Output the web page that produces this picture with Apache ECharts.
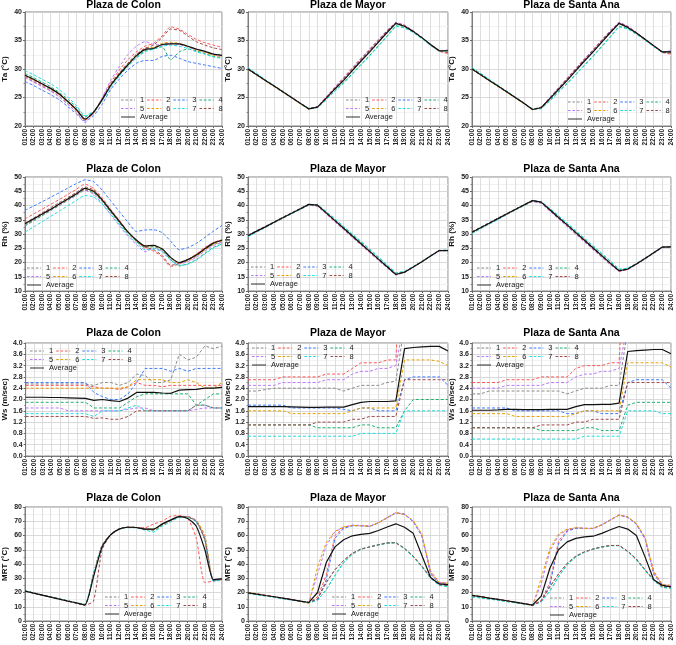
<!DOCTYPE html>
<html><head><meta charset="utf-8">
<script src="https://cdn.jsdelivr.net/npm/echarts@6/dist/echarts.min.js"></script>
<style>html,body{margin:0;padding:0;background:#fff}#c{width:676px;height:645px}</style>
</head><body><div id="c"></div><script>
const hours = ['01:00','02:00','03:00','04:00','05:00','06:00','07:00','08:00','09:00','10:00','11:00','12:00','13:00','14:00','15:00','16:00','17:00','18:00','19:00','20:00','21:00','22:00','23:00','24:00'];
const seriesNames = ['1','2','3','4','5','6','7','8','Average'];
const seriesColors = ['#8a8a8a','#ff5555','#3a78ff','#1fb070','#bb77ff','#e8a000','#20dde0','#a04848','#111111'];

// Ta (°C) — rows: series 1..8, Average
const taColon = [
 [28.7,28.0,27.2,26.4,25.5,24.2,22.8,21.1,22.3,24.6,27.2,29.2,30.9,32.4,33.6,33.7,34.2,34.5,34.4,33.9,33.4,33.1,32.6,32.4],
 [28.6,27.8,27.0,26.2,25.2,23.9,22.5,21.0,22.4,24.8,27.6,29.8,31.6,33.0,34.0,34.5,35.8,37.4,37.0,36.1,35.2,34.6,34.2,33.8],
 [27.8,27.1,26.3,25.5,24.6,23.4,22.1,20.9,21.8,23.8,26.4,28.2,29.8,31.0,31.5,31.5,32.2,32.4,31.9,31.3,31.0,30.7,30.4,30.1],
 [29.2,28.5,27.7,26.9,25.9,24.7,23.3,21.6,22.5,24.5,27.0,28.9,30.6,32.0,33.2,33.5,33.9,31.6,33.0,33.5,33.2,32.7,32.2,32.0],
 [28.5,27.7,26.9,26.1,25.1,23.8,22.4,20.6,22.2,24.9,28.0,30.4,32.5,34.0,34.8,34.3,34.2,34.5,34.3,33.9,33.4,33.0,32.5,32.3],
 [28.8,28.1,27.3,26.5,25.5,24.2,22.8,21.1,22.3,24.6,27.2,29.1,30.9,32.4,33.6,33.8,34.5,34.7,34.5,34.0,33.4,32.9,32.4,32.2],
 [29.7,29.0,28.2,27.4,26.4,25.1,23.6,21.8,22.6,24.4,26.8,28.7,30.4,31.9,33.0,33.5,34.0,34.2,34.0,33.6,33.0,32.6,32.1,31.9],
 [28.9,28.2,27.4,26.6,25.6,24.3,22.9,21.2,22.5,24.7,27.3,29.3,31.0,32.6,33.6,34.2,35.5,37.0,36.8,35.8,34.8,34.2,33.7,33.4],
 [28.9,28.2,27.4,26.6,25.6,24.3,22.9,21.2,22.4,24.6,27.1,29.0,30.7,32.3,33.4,33.6,34.3,34.4,34.4,34.0,33.5,33.1,32.6,32.4]
];
const taMayor = [
 [30.1,29.1,28.1,27.1,26.1,25.1,24.0,23.0,23.4,25.0,26.6,28.2,29.9,31.6,33.2,34.9,36.6,38.1,37.6,36.6,35.5,34.3,33.2,33.2],
 [30.0,29.0,28.0,27.0,26.0,25.0,24.0,23.0,23.4,25.1,26.8,28.5,30.2,31.9,33.5,35.1,36.7,38.2,37.7,36.7,35.5,34.2,33.1,32.7],
 [30.0,29.0,28.0,27.0,26.0,25.0,24.0,23.0,23.3,24.9,26.5,28.1,29.8,31.5,33.1,34.8,36.5,38.0,37.5,36.6,35.5,34.3,33.2,33.3],
 [30.1,29.1,28.0,27.0,26.0,25.0,24.0,23.1,23.3,24.7,26.2,27.6,29.2,30.8,32.4,34.1,35.8,37.6,37.3,36.5,35.4,34.2,33.1,33.2],
 [30.0,29.0,28.0,27.0,26.0,25.0,24.0,23.0,23.4,25.1,26.8,28.5,30.2,31.9,33.5,35.2,36.8,38.2,37.7,36.7,35.5,34.3,33.2,33.3],
 [29.9,28.9,27.9,26.9,25.9,24.9,23.9,22.9,23.3,24.9,26.5,28.1,29.8,31.5,33.1,34.8,36.5,38.0,37.5,36.6,35.5,34.3,33.2,33.2],
 [30.2,29.2,28.1,27.1,26.1,25.0,24.0,23.1,23.2,24.6,26.1,27.5,29.1,30.7,32.3,34.0,35.7,37.5,37.2,36.4,35.3,34.1,33.1,33.2],
 [30.0,29.0,28.0,27.0,26.0,25.0,24.0,23.0,23.4,25.0,26.7,28.3,30.0,31.7,33.3,35.0,36.7,38.1,37.6,36.6,35.5,34.2,33.1,32.9],
 [30.0,29.0,28.0,27.0,26.0,25.0,24.0,23.0,23.3,24.9,26.5,28.0,29.7,31.4,33.0,34.7,36.4,38.0,37.5,36.6,35.5,34.3,33.2,33.2]
];
const taSantaAna = [
 [30.1,29.1,28.1,27.1,26.1,25.1,24.0,22.9,23.3,24.9,26.5,28.2,29.9,31.6,33.2,34.9,36.6,38.1,37.4,36.4,35.2,34.1,33.0,33.0],
 [30.0,29.0,28.0,27.0,26.0,25.0,24.0,22.9,23.3,25.0,26.7,28.4,30.1,31.8,33.4,35.1,36.7,38.2,37.5,36.4,35.2,34.0,32.9,32.6],
 [30.0,29.0,28.0,27.0,26.0,25.0,24.0,22.9,23.2,24.8,26.4,28.1,29.8,31.5,33.1,34.8,36.5,38.0,37.3,36.3,35.2,34.1,33.0,33.1],
 [30.2,29.2,28.1,27.1,26.1,25.0,24.0,23.0,23.1,24.5,26.0,27.5,29.1,30.7,32.3,34.0,35.7,37.5,37.1,36.2,35.1,34.0,33.0,33.1],
 [30.0,29.0,28.0,27.0,26.0,25.0,24.0,22.9,23.3,25.0,26.7,28.4,30.1,31.8,33.4,35.1,36.8,38.2,37.5,36.4,35.2,34.1,33.0,33.2],
 [29.9,28.9,27.9,26.9,25.9,24.9,23.9,22.8,23.2,24.8,26.4,28.0,29.7,31.4,33.0,34.7,36.4,38.0,37.3,36.3,35.2,34.1,33.0,33.0],
 [30.2,29.2,28.2,27.1,26.1,25.1,24.0,23.0,23.0,24.4,25.9,27.4,29.0,30.6,32.2,33.9,35.6,37.4,37.0,36.1,35.0,33.9,32.9,33.0],
 [30.0,29.0,28.0,27.0,26.0,25.0,24.0,22.9,23.3,24.9,26.6,28.3,30.0,31.7,33.3,35.0,36.6,38.1,37.4,36.4,35.2,34.0,32.9,32.8],
 [30.0,29.0,28.0,27.0,26.0,25.0,24.0,22.9,23.2,24.8,26.4,28.0,29.7,31.4,33.0,34.7,36.4,38.0,37.3,36.3,35.2,34.1,33.0,33.0]
];

// Rh (%)
const rhColon = [
 [33.0,34.8,36.6,38.4,40.2,42.0,43.8,45.6,44.6,41.5,37.7,34.0,30.4,27.5,25.5,25.7,24.5,21.5,19.8,20.6,22.2,24.4,26.3,27.2],
 [35.3,37.0,38.7,40.4,42.1,43.9,45.7,47.5,46.0,42.7,38.7,34.8,30.8,27.6,25.0,24.0,22.0,18.6,19.5,21.0,23.0,25.3,27.0,27.8],
 [38.3,39.8,41.3,42.9,44.5,46.1,47.7,49.0,48.4,45.4,41.7,37.9,34.2,30.9,31.4,31.5,30.5,27.5,24.5,25.2,26.7,28.8,31.0,33.0],
 [32.8,34.6,36.4,38.2,40.0,41.8,43.6,45.4,44.5,41.5,37.8,34.0,30.3,27.4,25.3,25.5,24.3,21.0,18.8,19.5,21.0,23.2,25.3,26.5],
 [33.2,35.0,36.7,38.4,40.2,42.0,43.7,45.3,44.0,40.7,36.8,33.0,29.3,26.3,23.8,25.0,24.0,21.0,19.5,20.3,21.8,24.0,26.0,27.0],
 [33.4,35.2,36.9,38.6,40.4,42.2,44.0,45.8,44.8,41.8,38.0,34.3,30.6,27.7,25.6,25.8,24.6,21.5,19.8,20.7,22.3,24.5,26.5,27.5],
 [30.7,32.5,34.3,36.2,38.0,39.9,41.8,43.5,43.0,40.5,37.0,33.4,29.8,26.9,24.5,24.8,23.8,20.8,19.0,19.4,20.8,23.0,25.0,26.5],
 [33.8,35.6,37.4,39.2,41.0,42.8,44.6,46.5,45.5,42.3,38.4,34.6,30.8,27.8,25.5,24.5,22.5,19.0,19.7,21.0,22.8,25.0,27.0,28.0],
 [33.6,35.3,37.0,38.7,40.5,42.3,44.1,46.0,45.0,42.0,38.2,34.5,30.8,27.9,25.8,26.0,24.8,21.8,20.0,21.0,22.6,24.8,26.8,27.8]
];
const rhMayor = [
 [29.6,31.2,32.7,34.3,35.9,37.4,39.0,40.5,40.1,37.5,34.8,32.1,29.4,26.7,24.0,21.3,18.6,15.9,16.7,18.5,20.4,22.4,24.3,24.3],
 [29.4,31.0,32.5,34.0,35.6,37.1,38.7,40.2,39.8,37.1,34.3,31.6,28.9,26.2,23.5,20.8,18.2,15.7,16.5,18.4,20.3,22.3,24.2,24.2],
 [29.5,31.1,32.6,34.2,35.8,37.3,38.9,40.4,40.1,37.4,34.7,32.0,29.3,26.6,23.9,21.2,18.5,15.8,16.6,18.4,20.3,22.3,24.2,24.2],
 [29.2,30.8,32.4,34.0,35.6,37.2,38.8,40.3,40.2,37.8,35.2,32.5,29.8,27.2,24.5,21.8,19.0,16.2,16.8,18.5,20.4,22.3,24.2,24.3],
 [29.3,30.9,32.4,34.0,35.5,37.1,38.6,40.1,39.7,37.0,34.2,31.5,28.8,26.1,23.4,20.7,18.1,15.6,16.5,18.3,20.2,22.2,24.1,24.2],
 [29.4,31.0,32.5,34.1,35.7,37.2,38.8,40.3,40.0,37.3,34.6,31.9,29.2,26.5,23.8,21.1,18.4,15.8,16.6,18.4,20.3,22.3,24.2,24.2],
 [29.1,30.7,32.3,33.9,35.5,37.1,38.7,40.2,40.2,37.9,35.3,32.7,30.0,27.4,24.7,22.0,19.2,16.4,16.9,18.6,20.4,22.3,24.2,24.3],
 [29.5,31.1,32.6,34.2,35.8,37.3,38.9,40.4,40.0,37.3,34.6,31.9,29.2,26.5,23.8,21.1,18.4,15.8,16.6,18.4,20.3,22.3,24.2,24.2],
 [29.4,31.0,32.5,34.1,35.7,37.3,38.8,40.4,40.1,37.4,34.7,32.0,29.3,26.6,23.9,21.2,18.5,15.8,16.6,18.4,20.3,22.3,24.2,24.2]
];
const rhSantaAna = [
 [30.8,32.4,34.0,35.6,37.1,38.7,40.3,41.8,41.2,38.6,35.9,33.3,30.6,27.9,25.2,22.5,19.8,17.2,17.8,19.6,21.5,23.5,25.5,25.6],
 [30.6,32.2,33.8,35.3,36.9,38.5,40.0,41.5,40.9,38.1,35.4,32.7,30.0,27.3,24.6,21.9,19.3,16.9,17.6,19.4,21.3,23.3,25.3,25.4],
 [30.7,32.3,33.9,35.5,37.1,38.7,40.2,41.7,41.2,38.5,35.8,33.2,30.5,27.8,25.1,22.4,19.7,17.1,17.7,19.5,21.4,23.4,25.4,25.5],
 [30.3,31.9,33.6,35.2,36.8,38.5,40.1,41.6,41.3,38.9,36.3,33.7,31.0,28.3,25.7,23.0,20.3,17.5,17.9,19.6,21.5,23.4,25.4,25.6],
 [30.5,32.1,33.7,35.2,36.8,38.4,39.9,41.4,40.8,38.0,35.3,32.6,29.9,27.2,24.5,21.8,19.2,16.8,17.5,19.3,21.2,23.2,25.2,25.4],
 [30.6,32.2,33.8,35.4,37.0,38.6,40.1,41.6,41.1,38.4,35.7,33.1,30.4,27.7,25.0,22.3,19.6,17.0,17.7,19.5,21.4,23.4,25.4,25.5],
 [30.2,31.8,33.5,35.1,36.8,38.4,40.0,41.6,41.4,39.0,36.4,33.8,31.2,28.5,25.9,23.2,20.5,17.7,18.0,19.7,21.5,23.4,25.4,25.6],
 [30.7,32.3,33.9,35.5,37.1,38.7,40.2,41.7,41.1,38.4,35.7,33.0,30.3,27.6,24.9,22.2,19.6,17.0,17.7,19.5,21.4,23.4,25.4,25.5],
 [30.6,32.2,33.8,35.4,37.0,38.6,40.2,41.7,41.2,38.5,35.8,33.2,30.5,27.8,25.1,22.4,19.7,17.1,17.7,19.5,21.4,23.4,25.4,25.5]
];

// Ws (m/sec)
const wsColon = [
 [2.55,2.55,2.55,2.55,2.55,2.55,2.55,2.55,2.5,2.6,2.6,2.5,2.6,2.9,2.85,2.6,2.6,2.7,3.6,3.4,3.5,3.9,3.8,3.9],
 [2.5,2.5,2.5,2.5,2.5,2.5,2.5,2.5,2.45,2.4,2.4,2.35,2.45,2.6,2.5,2.5,2.45,2.5,2.5,2.5,2.5,2.5,2.5,2.5],
 [2.6,2.6,2.6,2.6,2.6,2.6,2.6,2.6,2.25,2.1,2.0,2.0,2.2,2.6,3.1,3.1,3.1,3.0,3.1,3.0,3.1,3.1,3.1,3.1],
 [1.9,1.9,1.9,1.9,1.9,1.9,1.9,1.9,1.7,1.7,1.7,1.7,1.9,2.1,2.2,2.2,2.2,2.2,2.2,2.2,1.8,2.0,2.2,2.2],
 [1.7,1.7,1.7,1.7,1.7,1.6,1.6,1.6,1.6,1.6,1.6,1.6,1.65,1.7,1.7,1.6,1.6,1.6,1.6,1.6,1.65,1.7,1.7,1.7],
 [2.4,2.4,2.4,2.4,2.4,2.4,2.4,2.4,2.4,2.4,2.4,2.4,2.45,2.7,2.7,2.7,2.7,2.6,2.6,2.7,2.6,2.4,2.4,2.6],
 [1.5,1.5,1.5,1.5,1.5,1.5,1.5,1.5,1.4,1.6,1.6,1.6,1.7,1.8,1.6,1.6,1.6,1.6,1.6,1.6,1.8,1.8,1.7,1.7],
 [1.4,1.4,1.4,1.4,1.4,1.4,1.4,1.4,1.33,1.35,1.3,1.3,1.4,1.6,1.6,1.6,1.6,1.6,1.6,1.6,1.8,1.8,1.7,1.7],
 [2.08,2.08,2.08,2.07,2.07,2.06,2.05,2.04,1.97,2.0,1.96,1.93,2.05,2.25,2.25,2.25,2.23,2.22,2.33,2.35,2.36,2.4,2.4,2.43]
];
const wsMayor = [
 [2.3,2.3,2.35,2.4,2.4,2.4,2.4,2.4,2.4,2.4,2.4,2.3,2.4,2.5,2.5,2.5,2.6,2.65,4.6,4.6,4.6,4.6,4.6,4.6],
 [2.7,2.7,2.7,2.7,2.8,2.8,2.8,2.8,2.8,2.9,2.9,2.9,3.1,3.3,3.3,3.3,3.4,3.4,9.0,9.0,9.0,9.0,9.0,9.0],
 [1.8,1.8,1.8,1.8,1.8,1.7,1.7,1.7,1.7,1.7,1.7,1.65,1.6,1.7,1.7,1.6,1.6,1.6,2.7,2.8,2.8,2.8,2.8,2.5],
 [1.1,1.1,1.1,1.1,1.1,1.1,1.1,1.1,1.0,1.0,1.0,1.0,1.0,1.1,1.1,1.0,1.0,1.0,1.6,2.0,2.0,2.0,2.0,2.0],
 [2.5,2.5,2.5,2.5,2.6,2.6,2.6,2.6,2.6,2.7,2.7,2.7,2.9,3.0,3.0,3.1,3.1,3.2,4.8,4.8,4.8,4.8,4.8,4.8],
 [1.6,1.6,1.6,1.6,1.6,1.5,1.5,1.5,1.5,1.5,1.5,1.5,1.6,1.7,1.7,1.7,1.7,1.7,3.4,3.4,3.4,3.4,3.35,3.2],
 [0.7,0.7,0.7,0.7,0.7,0.7,0.7,0.7,0.7,0.7,0.7,0.7,0.7,0.8,0.8,0.8,0.8,0.8,1.6,1.6,1.6,1.6,1.6,1.6],
 [1.1,1.1,1.1,1.1,1.1,1.1,1.1,1.1,1.2,1.2,1.2,1.2,1.3,1.3,1.4,1.4,1.4,1.4,2.7,2.7,2.7,2.7,2.7,2.7],
 [1.75,1.75,1.75,1.75,1.75,1.74,1.73,1.72,1.72,1.73,1.73,1.73,1.82,1.9,1.93,1.93,1.93,1.95,3.8,3.84,3.86,3.88,3.88,3.72]
];
const wsSantaAna = [
 [2.2,2.2,2.3,2.3,2.3,2.3,2.3,2.3,2.3,2.3,2.3,2.2,2.3,2.4,2.4,2.4,2.5,2.5,4.5,4.5,4.5,4.5,4.5,4.5],
 [2.6,2.6,2.6,2.6,2.7,2.7,2.7,2.7,2.8,2.8,2.8,2.8,3.1,3.2,3.2,3.2,3.3,3.3,9.0,9.0,9.0,9.0,9.0,9.0],
 [1.7,1.7,1.7,1.7,1.7,1.6,1.6,1.6,1.6,1.6,1.6,1.5,1.5,1.6,1.6,1.5,1.5,1.5,2.6,2.7,2.7,2.7,2.7,2.4],
 [1.0,1.0,1.0,1.0,1.0,1.0,1.0,1.0,0.9,0.9,0.9,0.9,0.9,1.0,1.0,0.9,0.9,0.9,1.8,1.9,1.9,1.9,1.9,1.9],
 [2.4,2.4,2.4,2.4,2.5,2.5,2.5,2.5,2.5,2.6,2.6,2.6,2.8,2.9,2.9,3.0,3.0,3.1,4.7,4.7,4.7,4.7,4.7,4.7],
 [1.5,1.5,1.5,1.5,1.5,1.4,1.4,1.4,1.4,1.4,1.4,1.4,1.5,1.6,1.6,1.6,1.6,1.6,3.3,3.3,3.3,3.3,3.3,3.15],
 [0.6,0.6,0.6,0.6,0.6,0.6,0.6,0.6,0.6,0.6,0.6,0.6,0.6,0.7,0.7,0.7,0.7,0.7,1.6,1.6,1.6,1.6,1.5,1.5],
 [1.0,1.0,1.0,1.0,1.0,1.0,1.0,1.0,1.1,1.1,1.1,1.1,1.2,1.2,1.3,1.3,1.3,1.3,2.6,2.6,2.6,2.6,2.6,2.6],
 [1.62,1.62,1.62,1.63,1.65,1.65,1.64,1.64,1.64,1.65,1.65,1.65,1.75,1.82,1.82,1.83,1.83,1.87,3.7,3.73,3.75,3.77,3.77,3.62]
];

// MRT (°C)
const mrtColon = [
 [21.0,19.6,18.2,16.8,15.4,14.0,12.6,11.3,33.0,53.0,60.8,64.6,65.8,65.6,64.5,64.3,68.0,71.0,73.5,73.0,70.0,57.0,28.5,29.5],
 [21.0,19.6,18.2,16.8,15.4,14.0,12.6,11.2,33.0,53.0,60.8,64.6,65.8,65.6,65.5,68.0,70.0,73.5,74.0,72.0,58.0,27.0,28.0,29.0],
 [21.0,19.7,18.3,16.9,15.5,14.1,12.7,11.5,33.0,53.0,60.8,64.6,65.8,65.6,64.5,64.0,67.5,70.5,73.0,73.0,69.5,57.0,28.0,29.0],
 [21.0,19.7,18.3,16.9,15.5,14.1,12.7,11.5,33.0,53.0,60.8,64.6,65.8,65.6,64.5,63.5,67.0,70.5,73.0,73.0,70.0,58.0,28.5,29.5],
 [21.0,19.6,18.2,16.8,15.4,14.0,12.6,11.3,33.0,53.0,60.8,64.6,65.8,65.6,64.5,64.0,67.5,70.5,73.0,73.5,70.5,59.0,29.0,29.5],
 [21.0,19.6,18.2,16.8,15.4,14.0,12.7,11.5,33.0,53.0,60.8,64.6,65.8,65.6,64.5,64.0,67.5,70.5,73.0,73.0,70.5,60.0,29.0,29.5],
 [21.2,19.8,18.4,17.0,15.6,14.2,12.8,12.0,33.0,52.5,60.5,64.5,65.5,65.3,63.8,62.5,66.5,69.5,72.5,72.5,69.5,57.0,28.0,28.5],
 [21.0,19.6,18.2,16.8,15.4,14.0,12.6,11.2,14.0,50.0,60.5,64.5,65.8,65.6,64.5,64.3,68.0,71.0,73.5,73.0,70.0,57.0,28.5,29.5],
 [21.0,19.6,18.2,16.8,15.4,14.0,12.7,11.3,31.0,52.0,60.5,64.5,65.8,65.6,64.5,64.5,68.0,70.8,73.2,72.0,66.5,50.0,29.0,29.5]
];
const mrtMayor = [
 [19.8,18.9,17.9,17.0,16.0,15.0,14.0,13.0,15.5,27.0,36.0,42.5,47.5,50.5,52.0,53.5,54.8,55.0,51.0,45.5,38.5,30.5,25.5,25.0],
 [20.0,19.0,18.0,17.0,16.0,15.0,14.0,13.0,17.0,32.0,60.0,65.5,67.0,67.0,66.5,69.0,72.5,76.0,75.0,70.0,60.0,35.0,27.0,26.5],
 [19.8,18.9,17.9,17.0,16.0,15.0,14.0,13.0,15.0,29.0,58.0,65.0,66.8,66.8,66.3,68.8,72.3,75.8,74.8,69.8,59.5,33.0,26.5,25.0],
 [19.5,18.6,17.6,16.7,15.7,14.8,13.8,12.8,14.5,22.0,32.0,41.0,47.0,50.3,52.0,53.5,54.8,55.0,50.8,45.0,38.0,30.0,25.0,24.5],
 [20.0,19.0,18.0,17.0,16.0,15.0,14.0,13.0,33.0,53.0,62.5,66.0,67.3,67.0,66.5,69.0,72.5,76.0,75.0,70.0,60.0,33.0,27.0,26.5],
 [20.2,19.2,18.1,17.1,16.0,15.0,13.6,12.2,38.0,55.0,63.0,66.0,67.0,66.8,66.5,69.0,72.5,75.8,74.8,70.5,61.0,34.0,27.0,26.5],
 [19.3,18.4,17.5,16.6,15.6,14.7,13.8,12.8,14.5,22.0,32.0,41.0,47.0,50.3,52.0,53.3,54.5,54.8,50.5,45.0,38.0,30.0,25.0,24.0],
 [19.8,18.9,17.9,17.0,16.0,15.0,14.0,13.0,15.5,27.0,36.0,42.5,47.5,50.5,52.0,53.5,54.8,55.0,51.0,45.5,38.5,30.5,25.5,25.0],
 [19.8,18.9,17.9,17.0,16.0,15.0,14.0,13.0,20.0,41.0,52.0,57.0,59.8,60.8,61.5,63.5,66.0,68.2,65.8,61.5,46.0,30.5,26.0,25.5]
];
const mrtSantaAna = [
 [17.8,16.9,16.0,15.1,14.1,13.1,12.1,11.1,14.0,24.0,33.0,40.5,45.5,48.5,50.5,52.0,53.0,53.0,49.0,43.5,36.0,29.0,24.0,24.0],
 [18.0,17.1,16.1,15.2,14.2,13.2,12.2,11.2,14.5,27.0,56.0,63.5,65.3,65.0,65.0,67.5,71.0,74.5,73.0,68.0,58.0,35.0,25.5,24.5],
 [17.8,16.9,16.0,15.1,14.1,13.1,12.1,11.1,13.5,25.0,54.0,63.0,65.0,65.0,64.8,67.3,70.8,74.3,72.8,67.8,57.5,33.0,25.0,24.0],
 [17.0,16.2,15.4,14.6,13.7,12.8,12.0,11.2,13.5,21.0,31.0,39.5,45.0,48.5,50.5,52.0,53.0,53.0,48.8,43.0,35.5,28.5,23.5,23.0],
 [18.0,17.1,16.1,15.2,14.2,13.2,12.2,11.2,26.0,49.0,60.0,64.0,65.5,65.0,65.0,67.5,71.0,74.5,73.0,68.0,58.0,33.0,25.5,25.0],
 [18.2,17.2,16.2,15.2,14.2,13.2,12.0,10.8,30.0,51.0,61.0,64.5,65.5,65.0,65.0,67.5,71.0,74.3,73.0,68.5,59.0,34.0,25.5,25.0],
 [17.0,16.2,15.4,14.6,13.7,12.8,12.0,11.2,13.5,21.0,31.0,39.5,45.0,48.3,50.3,51.8,52.8,52.8,48.5,43.0,35.5,28.5,23.5,23.0],
 [17.8,16.9,16.0,15.1,14.1,13.1,12.1,11.1,14.0,24.0,33.0,40.5,45.5,48.5,50.5,52.0,53.0,53.0,49.0,43.5,36.0,29.0,24.0,24.0],
 [18.0,17.1,16.1,15.2,14.2,13.2,12.2,11.2,17.5,37.0,50.0,55.5,58.0,59.0,59.5,61.5,64.0,66.3,64.5,60.0,45.0,29.0,25.0,24.0]
];

const titles = ['Plaza de Colon','Plaza de Mayor','Plaza de Santa Ana'];
const rowsDef = [
  {name:'Ta (°C)', min:20, max:40, interval:5, data:[taColon,taMayor,taSantaAna], dec:0},
  {name:'Rh (%)', min:10, max:50, interval:5, data:[rhColon,rhMayor,rhSantaAna], dec:0},
  {name:'Ws (m/sec)', min:0, max:4, interval:0.4, data:[wsColon,wsMayor,wsSantaAna], dec:1},
  {name:'MRT (°C)', min:0, max:80, interval:10, data:[mrtColon,mrtMayor,mrtSantaAna], dec:0}
];
// layout (pixels)
const colPos = [{left:25,width:197},{left:248,width:200},{left:472,width:199}];
const rowPos = [{top:12,height:114},{top:177,height:114},{top:343,height:113},{top:507,height:114}];
const titleTop = [0,164,328,493];
const legendPos = [
  [[121,100],[346,100],[568,102]],
  [[27,268],[251,267],[477,268]],
  [[30,351],[252,348],[477,348]],
  [[105,597],[332,597],[550,598]]
];
const DASH_ICON = 'path://M0,0h3v1h-3zM5,0h3v1h-3zM10,0h3v1h-3zM15,0h1v1h-1z';
const SOLID_ICON = 'path://M0,0h16v1h-16z';

const FONT = 'Liberation Sans, Arial, sans-serif';
const option = {animation:false, backgroundColor:'#fff', title:[], grid:[], xAxis:[], yAxis:[], series:[], legend:[]};
let idx = 0;
rowsDef.forEach((rd, r) => {
  for (let c = 0; c < 3; c++) {
    const cp = colPos[c], rp = rowPos[r];
    const smoothIt = (c === 0 && r !== 2) ? 0.2 : false;
    option.grid.push({left:cp.left, top:rp.top, width:cp.width, height:rp.height, show:true, borderColor:'#666', borderWidth:0.8, containLabel:false});
    option.title.push({text:titles[c], left:cp.left+cp.width/2, top:titleTop[r], textAlign:'center', padding:0,
      textStyle:{fontFamily:FONT, fontSize:10.5, fontWeight:'bold', color:'#000'}});
    option.xAxis.push({type:'category', gridIndex:idx, data:hours, boundaryGap:false,
      axisLine:{lineStyle:{color:'#666', width:0.8}},
      axisTick:{show:true, interval:0, length:2, lineStyle:{color:'#666'}},
      axisLabel:{interval:0, rotate:90, fontSize:6.5, fontWeight:'bold', color:'#222', margin:3, fontFamily:FONT},
      splitLine:{show:true, interval:0, lineStyle:{color:'#d6d6d6', width:0.8}}});
    option.yAxis.push({type:'value', gridIndex:idx, min:rd.min, max:rd.max, interval:rd.interval,
      name:rd.name, nameLocation:'middle', nameGap:16,
      nameTextStyle:{fontFamily:FONT, fontSize:8, fontWeight:'bold', color:'#111'},
      axisLine:{show:true, lineStyle:{color:'#666', width:0.8}},
      axisTick:{show:true, length:2, lineStyle:{color:'#666'}},
      minorTick:{show:true, splitNumber:2, length:1.5, lineStyle:{color:'#888'}},
      minorSplitLine:{show:true, lineStyle:{color:'#efefef', width:0.8}},
      axisLabel:{fontSize:7, fontWeight:'bold', color:'#222', margin:3, fontFamily:FONT,
        formatter: v => rd.dec ? v.toFixed(rd.dec) : String(Math.round(v))},
      splitLine:{show:true, lineStyle:{color:'#cfcfcf', width:0.8}}});
    const panel = rd.data[c];
    panel.forEach((vals, s) => {
      const isAvg = s === 8;
      option.series.push({type:'line', name:seriesNames[s], xAxisIndex:idx, yAxisIndex:idx, data:vals,
        symbol:'none', silent:true, clip:true, z: isAvg ? 5 : 3, smooth: smoothIt,
        color: seriesColors[s],
        lineStyle:{color:seriesColors[s], width: isAvg ? 1.2 : 1, type: isAvg ? 'solid' : [3,2]}});
    });
    const [lx, ly] = legendPos[r][c];
    const legendRows = [['1','2','3','4'],['5','6','7','8'],['Average']];
    legendRows.forEach((items, k) => {
      option.legend.push({
        data: items.map(n => ({name:n, icon: n === 'Average' ? SOLID_ICON : DASH_ICON})),
        left:lx, top:ly - 5 + k*8.5, orient:'horizontal', padding:0,
        itemWidth:14, itemHeight: k === 2 ? 1.3 : 1.1, itemGap:3, selectedMode:false,
        textStyle:{fontFamily:FONT, fontSize:7.5, color:'#222', lineHeight:10}});
    });
    idx++;
  }
});
const chart = echarts.init(document.getElementById('c'), null, {renderer:'canvas'});
chart.setOption(option);
</script></body></html>
